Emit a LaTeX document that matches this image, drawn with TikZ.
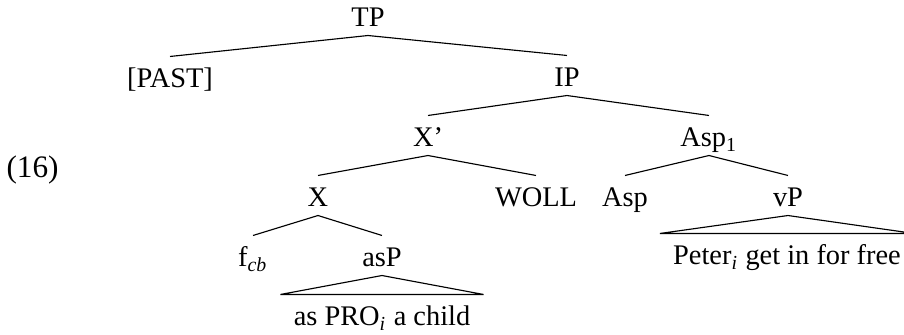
\documentclass[tikz,border=0pt]{standalone}
\usepackage{fontspec}
\setmainfont{Liberation Serif}
\usepackage{tikz}
\tikzstyle{cat} = [anchor=base, inner sep=0pt, text height=10.9pt, text depth=2.8pt]
\tikzstyle{words} = [cat, inner xsep=4.5pt]
\tikzstyle{branch} = [-]

\begin{document}
\begin{tikzpicture}[x=0.1238mm, y=-0.1238mm]
  \useasboundingbox (0,0) rectangle (904,335);

  % Beispielnummer
  \node[anchor=base west, inner sep=0pt, font=\fontsize{11}{13}\selectfont] (ex) at (6,178) {(16)};

  % Kategorien
  \node[cat] (TP) at (368,27) {TP};
  \node[cat] (past) at (170,88) {[PAST]};
  \node[cat] (IP) at (567,87) {IP};
  \node[cat] (Xbar) at (428,147) {X’};
  \node[cat] (Asp1) at (709,147) {Asp\textsubscript{1}};
  \node[cat] (X) at (318,207) {X};
  \node[cat] (woll) at (536,207) {WOLL};
  \node[cat] (Asp) at (625,207) {Asp};
  \node[cat] (vP) at (788,207) {vP};
  \node[cat] (fcb) at (253,267) {f\textsubscript{\textit{cb}}};
  \node[cat] (asP) at (382,267) {asP};

  % Endketten
  \node[words] (asyield) at (382,326) {as PRO\textsubscript{\textit{i}} a child};
  \node[words] (vPyield) at (787,265) {Peter\textsubscript{\textit{i}} get in for free};

  % Aeste
  \draw[branch] (TP.south) -- (past.north);
  \draw[branch] (TP.south) -- (IP.north);
  \draw[branch] (IP.south) -- (Xbar.north);
  \draw[branch] (IP.south) -- (Asp1.north);
  \draw[branch] (Xbar.south) -- (X.north);
  \draw[branch] (Xbar.south) -- (woll.north);
  \draw[branch] (Asp1.south) -- (Asp.north);
  \draw[branch] (Asp1.south) -- (vP.north);
  \draw[branch] (X.south) -- (fcb.north);
  \draw[branch] (X.south) -- (asP.north);

  % Dreiecke
  \draw[branch] (asP.south) -- (asyield.north west) -- (asyield.north east) -- cycle;
  \draw[branch] (vP.south) -- (vPyield.north west) -- (vPyield.north east) -- cycle;
\end{tikzpicture}
\end{document}
